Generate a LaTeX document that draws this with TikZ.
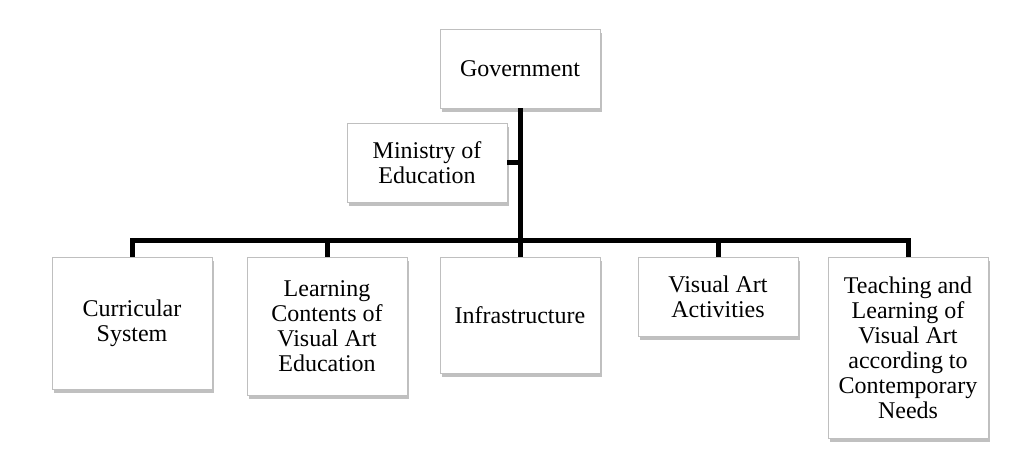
\documentclass[tikz,border=0pt]{standalone}
\usepackage{fontspec}
\setmainfont{Liberation Serif}
\usepackage{tikz}
\usetikzlibrary{calc,shadows,positioning}
\colorlet{boxline}{black!25}

\begin{document}
\begin{tikzpicture}[x=1pt, y=-1pt,
    orgbox/.style={rectangle, draw=boxline, fill=white, thin, inner sep=0pt,
      minimum width=160pt, align=center,
      font=\fontsize{24}{25}\selectfont,
      drop shadow={shadow xshift=2pt, shadow yshift=-3.5pt, fill=black!45, opacity=0.55}},
    link/.style={line width=5pt, black}]
      \useasboundingbox (0, 0) rectangle (1033, 459);
      % Top levels
      \node[orgbox, minimum height=79pt] (gov) at (520, 68.5) {Government};
      \node[orgbox, minimum height=79pt] (moe) at (427, 162.5) {Ministry of\\Education};
      % Bottom level
      \node[orgbox, minimum height=132pt] (curr) at (132, 323) {Curricular\\System};
      \node[orgbox, minimum height=138pt] (learn) at (327, 326) {Learning\\Contents of\\Visual Art\\Education};
      \node[orgbox, minimum height=116pt] (infra) at (520, 315) {Infrastructure};
      \node[orgbox, minimum height=79pt] (act) at (718, 296.5) {Visual Art\\Activities};
      \node[orgbox, minimum height=181pt] (teach) at (908, 347.5) {Teaching and\\Learning of\\Visual Art\\according to\\Contemporary\\Needs};
      % Bar
      \coordinate (bar) at (0, 240);
      % Trunk and stubs
      \draw[link] (gov.south) -- (infra.north);
      \draw[link] (moe.east) -- (moe.east -| gov.south);
      \draw[link] (curr.north) -- (curr.north |- bar) -- (teach.north |- bar) -- (teach.north);
      \draw[link] (learn.north) -- (learn.north |- bar);
      \draw[link] (act.north) -- (act.north |- bar);
    \end{tikzpicture}
\end{document}
